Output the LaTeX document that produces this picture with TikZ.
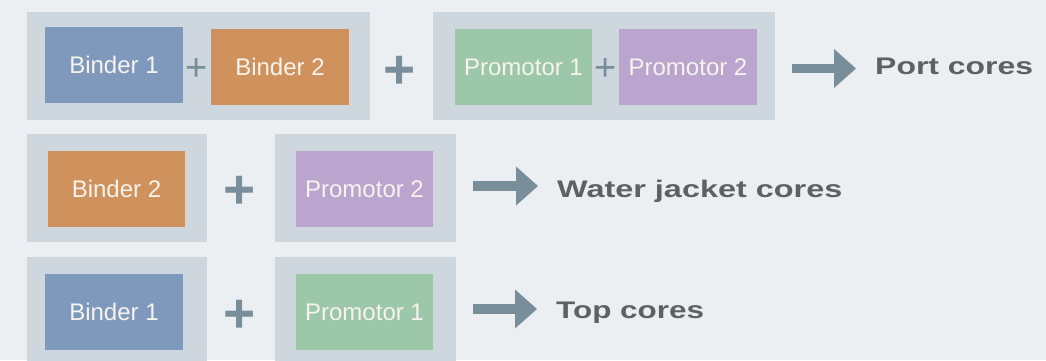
\documentclass[tikz,border=0pt]{standalone}
\usepackage{fontspec}
\setmainfont{Liberation Sans}
\usetikzlibrary{arrows.meta}
\definecolor{bg}{HTML}{EBEFF2}
\definecolor{grp}{HTML}{CED6DE}
\definecolor{bone}{HTML}{7F99BD}
\definecolor{btwo}{HTML}{D0925C}
\definecolor{pone}{HTML}{9DC7A9}
\definecolor{ptwo}{HTML}{BBA4CD}
\definecolor{accent}{HTML}{788E9B}
\definecolor{lbl}{HTML}{5E6064}
\definecolor{boxtxt}{HTML}{F7F3EE}
\begin{document}
\begin{tikzpicture}[x=1pt,y=-1pt,
  grpbox/.style={fill=grp, draw=none, inner sep=0pt, minimum height=108pt},
  item/.style={draw=none, inner sep=0pt, minimum height=76pt, text=boxtxt,
    font=\fontsize{24}{26}\selectfont, text height=17.5pt, text depth=0pt},
  plusbig/.style={inner sep=0pt, text=accent, font=\fontsize{55}{60}\selectfont\bfseries,
    text height=38.5pt, text depth=0pt},
  plussmall/.style={inner sep=0pt, text=accent, font=\fontsize{38}{42}\selectfont,
    text height=26.75pt, text depth=0pt},
  result/.style={inner sep=0pt, anchor=base west, text=lbl,
    font=\fontsize{24}{28}\selectfont\bfseries},
  flow/.style={draw=accent, line width=9.5pt,
    -{Triangle[length=22pt,width=39pt,line width=0pt]}, shorten >=19pt}]
\clip (0,0) rectangle (1046,360);
\fill[bg] (0,0) rectangle (1046,360);
% row 1
\node[grpbox, minimum width=343pt] (g1) at (198.5,66) {};
\node[item, fill=bone, minimum width=138pt] (b1a) at (114,65) {Binder 1};
\node[item, fill=btwo, minimum width=138pt] (b2a) at (280,67) {Binder 2};
\node[plussmall] (s1) at (197,67) {+};
\node[plusbig] (m1) at (400,69) {+};
\node[grpbox, minimum width=342pt] (g2) at (604,66) {};
\node[item, fill=pone, minimum width=137pt] (p1a) at (523.5,67) {Promotor 1};
\node[item, fill=ptwo, minimum width=138pt] (p2a) at (688,67) {Promotor 2};
\node[plussmall] (s2) at (606,67) {+};
\node[result] (r1) at (875,74) {\scalebox{1.33}[1]{Port cores}};
\coordinate (a1) at (792,68.5);
\draw[flow] (a1) -- (a1 -| r1.west);
% row 2
\node[grpbox, minimum width=180pt] (g3) at (117,188) {};
\node[item, fill=btwo, minimum width=137pt] (b2b) at (116.5,189) {Binder 2};
\node[plusbig] (m2) at (240,189.5) {+};
\node[grpbox, minimum width=181pt] (g4) at (365.5,188) {};
\node[item, fill=ptwo, minimum width=137pt] (p2b) at (364.5,189) {Promotor 2};
\node[result] (r2) at (557,197) {\scalebox{1.35}[1]{Water jacket cores}};
\coordinate (a2) at (473,186);
\draw[flow] (a2) -- (a2 -| r2.west);
% row 3
\node[grpbox, minimum width=180pt] (g5) at (117,311) {};
\node[item, fill=bone, minimum width=138pt] (b1b) at (114,312) {Binder 1};
\node[plusbig] (m3) at (240,313) {+};
\node[grpbox, minimum width=181pt] (g6) at (365.5,311) {};
\node[item, fill=pone, minimum width=137pt] (p1b) at (364.5,312) {Promotor 1};
\node[result] (r3) at (556,318) {\scalebox{1.31}[1]{Top cores}};
\coordinate (a3) at (473,309);
\draw[flow] (a3) -- (a3 -| r3.west);
\end{tikzpicture}
\end{document}
